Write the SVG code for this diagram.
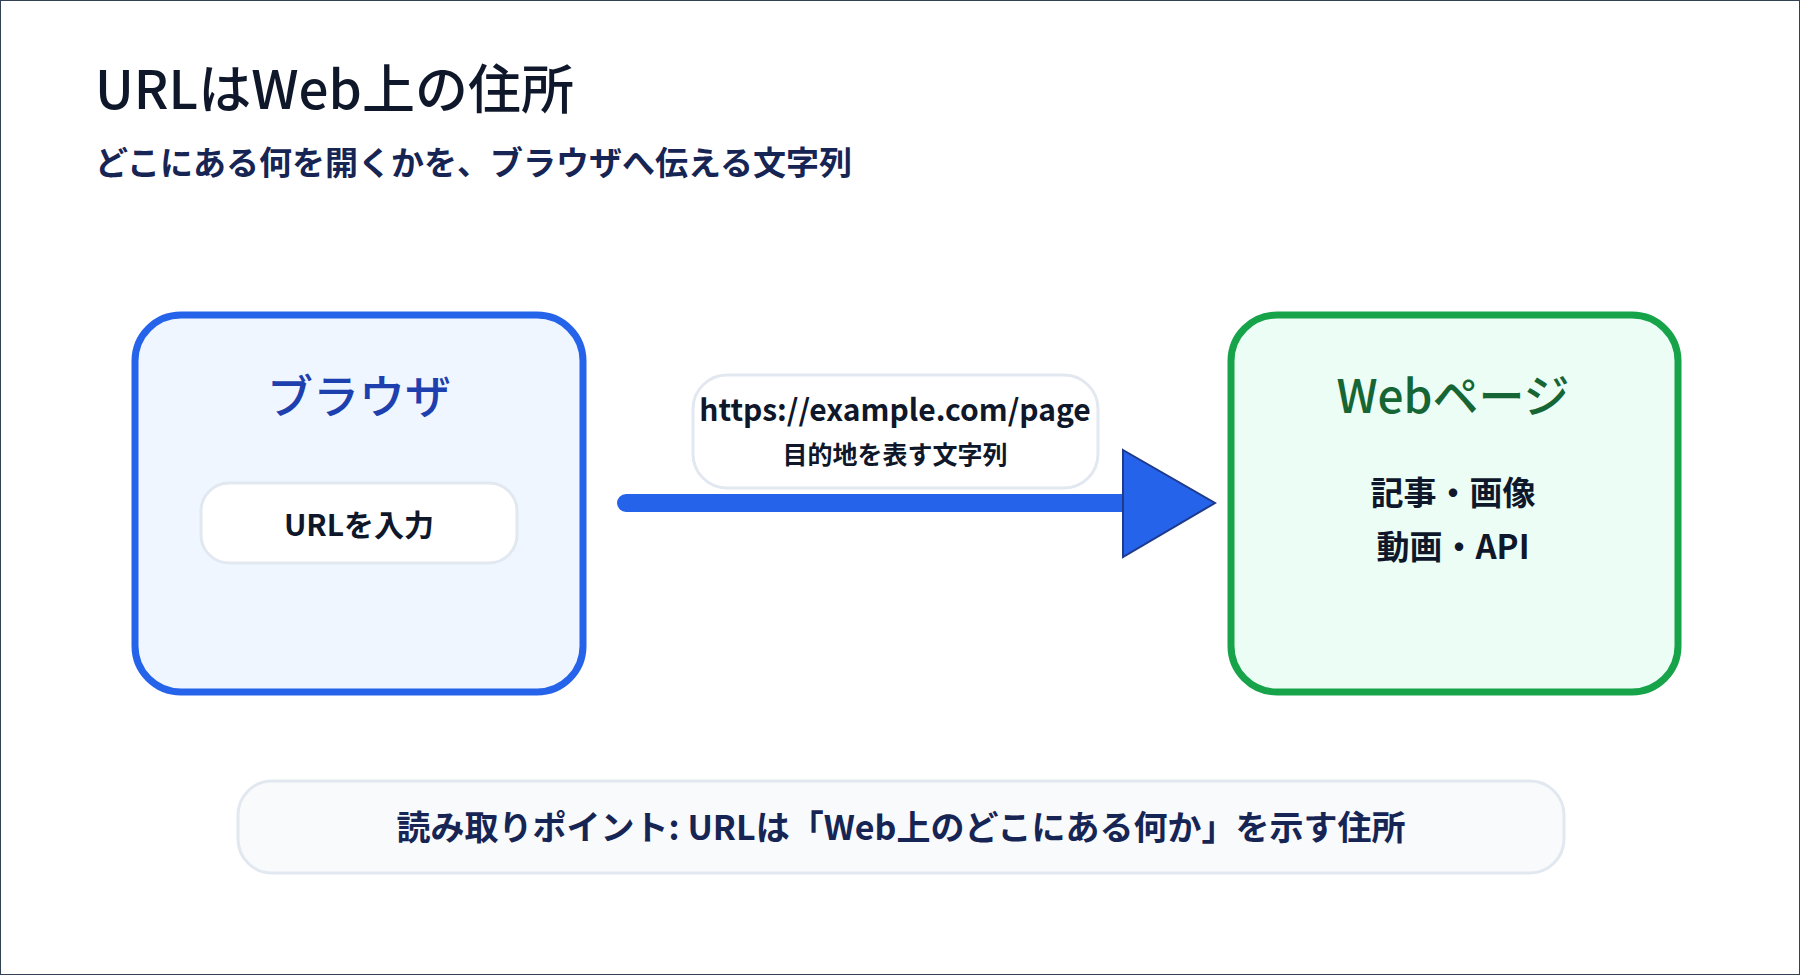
<svg xmlns="http://www.w3.org/2000/svg" width="1800" height="975" viewBox="0 0 1800 975">
<style>
text{font-family:"Noto Sans CJK JP","Noto Sans",sans-serif;text-anchor:middle}
.t{font-weight:500;fill:#0f172a}
.b{font-weight:700;fill:#0f172a}
.pill{fill:#fff;stroke:#e2e8f0;stroke-width:3}
</style>
<rect x="0.5" y="0.5" width="1799" height="974" fill="#fff" stroke="#334155"/>
<g id="title">
<text class="t" x="95" y="109" font-size="53" style="text-anchor:start">URLはWeb上の住所</text>
<text class="b" x="95" y="175" font-size="33" fill="#1e293b" style="text-anchor:start;fill:#172554">どこにある何を開くかを、ブラウザへ伝える文字列</text>
</g>
<g id="connectors">
<line x1="626" y1="503" x2="1125" y2="503" stroke="#2563eb" stroke-width="18" stroke-linecap="round"/>
<polygon points="1123,450 1215,503 1123,557" fill="#2563eb" stroke="#1e3a8a" stroke-width="2"/>
</g>
<g id="browser">
<rect x="135" y="315" width="448" height="377" rx="46" fill="#eff6ff" stroke="#2563eb" stroke-width="7"/>
<text x="359" y="413" font-size="46" font-weight="500" fill="#1e40af">ブラウザ</text>
<rect class="pill" x="201" y="483" width="316" height="80" rx="28"/>
<text class="b" x="359" y="536" font-size="30">URLを入力</text>
</g>
<g id="url-label">
<rect class="pill" x="693" y="375" width="405" height="113" rx="34"/>
<text class="b" x="895" y="421" font-size="30">https://example.com/page</text>
<text class="b" x="895" y="464" font-size="25">目的地を表す文字列</text>
</g>
<g id="webpage">
<rect x="1231" y="315" width="447" height="377" rx="46" fill="#ecfdf5" stroke="#16a34a" stroke-width="7"/>
<text x="1453" y="413" font-size="46" font-weight="500" fill="#166534">Webページ</text>
<text class="b" x="1453" y="505" font-size="33">記事・画像</text>
<text class="b" x="1453" y="559" font-size="33">動画・API</text>
</g>
<g id="note">
<rect x="238" y="781" width="1326" height="92" rx="34" fill="#f8fafc" stroke="#e2e8f0" stroke-width="3"/>
<text class="b" x="901" y="840" font-size="34" style="fill:#172554">読み取りポイント: URLは「Web上のどこにある何か」を示す住所</text>
</g>
</svg>
